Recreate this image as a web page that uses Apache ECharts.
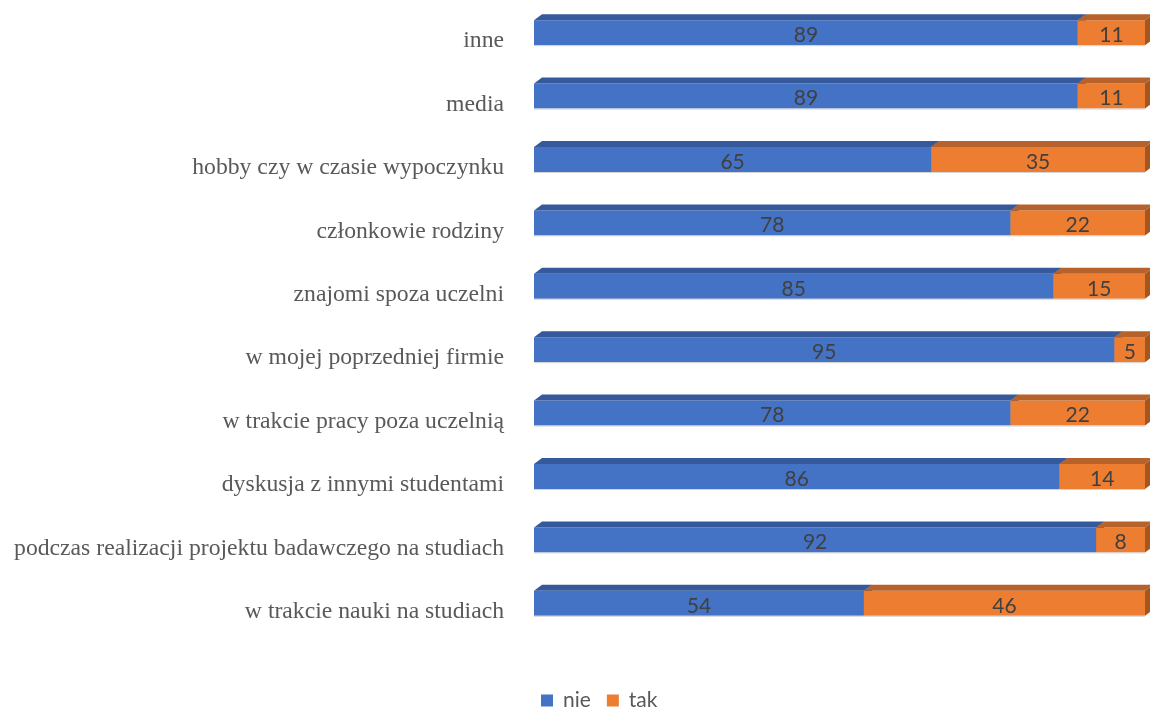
<!DOCTYPE html>
<html>
<head>
<meta charset="utf-8">
<script src="https://cdn.jsdelivr.net/npm/echarts@6/dist/echarts.min.js"></script>
<style>html,body{margin:0;padding:0;background:#fff}#c{width:1150px;height:709px}</style>
</head>
<body>
<div id="c"></div>
<script>
var categories = ['w trakcie nauki na studiach','podczas realizacji projektu badawczego na studiach','dyskusja z innymi studentami','w trakcie pracy poza uczelnią','w mojej poprzedniej firmie','znajomi spoza uczelni','członkowie rodziny','hobby czy w czasie wypoczynku','media','inne'];
var nie = [54, 92, 86, 78, 95, 85, 78, 65, 89, 89];
var tak = [46, 8, 14, 22, 5, 15, 22, 35, 11, 11];
var seriesNames = ['nie', 'tak'];

var styles = {
  nie: {front: '#4472C4', top: '#36599b', side: '#2f4f8a'},
  tak: {front: '#ED7D31', top: '#b7622a', side: '#a3561f'}
};
var BAR_H = 25, DX = 8, DY = 6, SHIFT = 8.5;

function buildData(vals, bases) {
  return vals.map(function (v, i) {
    var b = bases ? bases[i] : 0;
    return [i, b, b + v, v];
  });
}

function makeRender(st) {
  return function (params, api) {
    var idx = api.value(0);
    var p0 = api.coord([api.value(1), idx]);
    var p1 = api.coord([api.value(2), idx]);
    var x0 = p0[0], x1 = p1[0];
    var cy = p0[1] - SHIFT;
    var y0 = cy - BAR_H / 2;
    return {
      type: 'group',
      children: [
        {type: 'rect', shape: {x: x0, y: y0, width: x1 - x0, height: BAR_H}, style: {fill: st.front}},
        {type: 'line', shape: {x1: x0, y1: y0 + BAR_H + 0.5, x2: x1, y2: y0 + BAR_H + 0.5}, style: {stroke: '#d4d4d4', lineWidth: 1}},
        {type: 'polygon', shape: {points: [[x0, y0], [x0 + DX, y0 - DY], [x1 + DX, y0 - DY], [x1, y0]]}, style: {fill: st.top}},
        {type: 'polygon', shape: {points: [[x1, y0], [x1 + DX, y0 - DY], [x1 + DX, y0 + BAR_H - DY], [x1, y0 + BAR_H]]}, style: {fill: st.side}},
        {type: 'text', x: (x0 + x1) / 2, y: cy + 2.5, style: {text: String(api.value(3)), fill: '#404040', font: '21px Lato', align: 'center', verticalAlign: 'middle'}}
      ]
    };
  };
}

var chart = echarts.init(document.getElementById('c'), null, {renderer: 'canvas'});
chart.setOption({
  animation: false,
  backgroundColor: '#fff',
  grid: {left: 534, right: 5, top: 9.5, bottom: 65.5},
  legend: {
    top: 685, left: 536,
    data: seriesNames,
    icon: 'rect', itemWidth: 12, itemHeight: 12, itemGap: 16,
    textStyle: {color: '#595959', fontFamily: 'Lato', fontSize: 21, padding: [0, 0, 0, 5]}
  },
  xAxis: {type: 'value', min: 0, max: 100, show: false},
  yAxis: {
    type: 'category', data: categories,
    axisLine: {show: false}, axisTick: {show: false}, splitLine: {show: false},
    axisLabel: {color: '#595959', fontFamily: 'Liberation Serif', fontSize: 23.7, margin: 30}
  },
  series: [
    {name: 'nie', type: 'custom', clip: false, itemStyle: {color: styles.nie.front}, encode: {x: [1, 2], y: 0}, renderItem: makeRender(styles.nie), data: buildData(nie)},
    {name: 'tak', type: 'custom', clip: false, itemStyle: {color: styles.tak.front}, encode: {x: [1, 2], y: 0}, renderItem: makeRender(styles.tak), data: buildData(tak, nie)}
  ]
});
</script>
</body>
</html>
